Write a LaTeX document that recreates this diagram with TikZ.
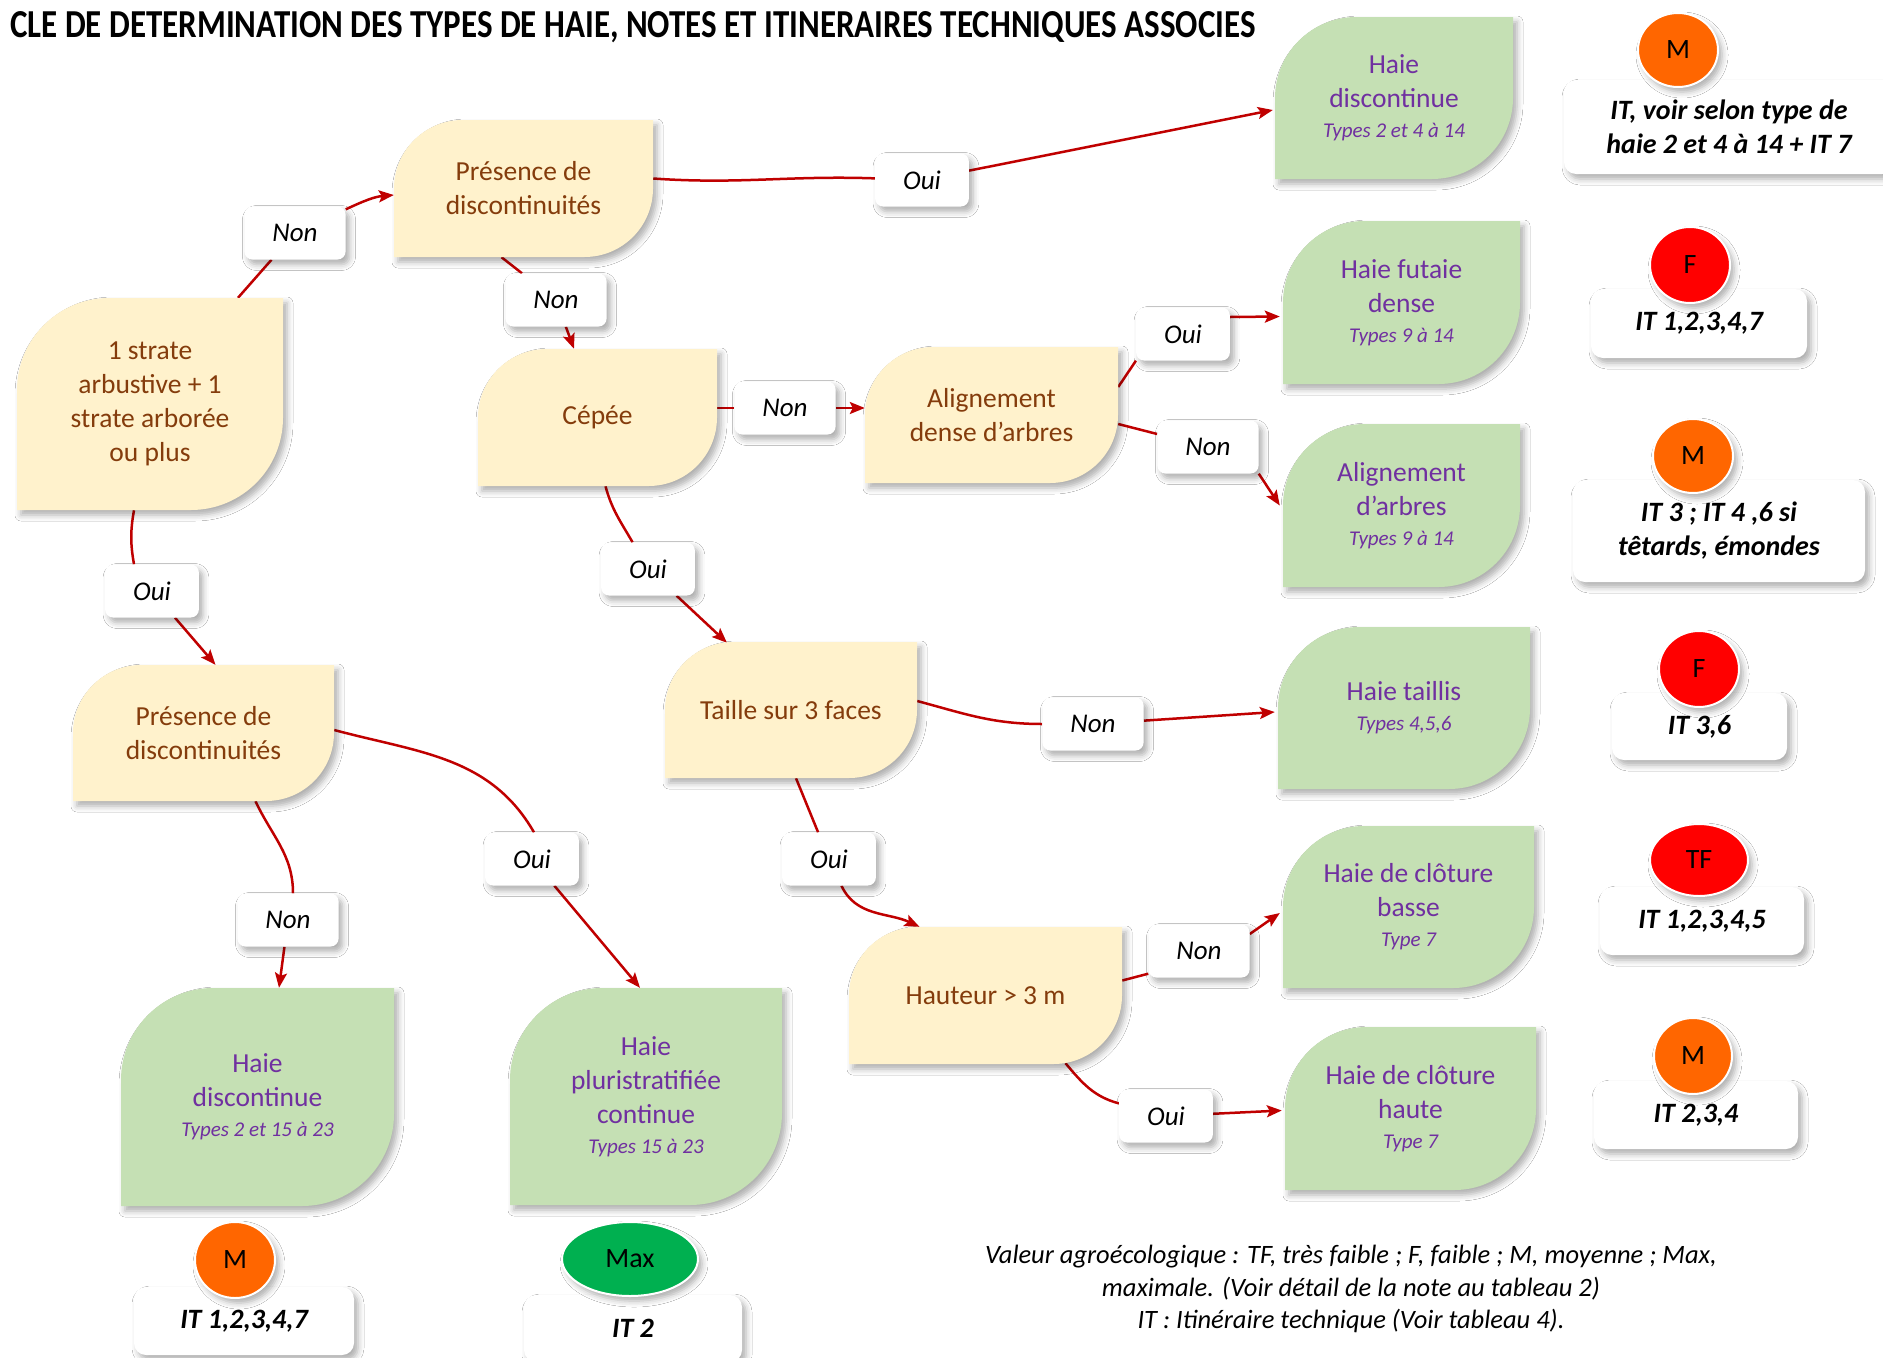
\documentclass[tikz,border=0pt]{standalone}
\usepackage{fontspec}
\setmainfont{Carlito}
\usepackage{graphicx}
\usetikzlibrary{calc,arrows.meta,shadows.blur,backgrounds,shapes.geometric}

\definecolor{yfill}{RGB}{255,242,204}
\definecolor{ytext}{RGB}{132,60,12}
\definecolor{gfill}{RGB}{197,224,180}
\definecolor{gtext}{RGB}{112,48,160}
\definecolor{lred}{RGB}{192,0,0}
\definecolor{corange}{RGB}{255,102,0}
\definecolor{cred}{RGB}{255,0,0}
\definecolor{cgreen}{RGB}{0,176,80}

\newcommand\subt[1]{{\fontsize{21}{26}\selectfont\itshape #1}}

% name, x1, y1, x2, y2, fill, text style, text
\newcommand\leafbox[8]{%
  \pgfmathsetmacro\lr{min(92,0.5*min(#4-#2,#5-#3))}%
  \pgfmathsetmacro\lk{0.4477*\lr}%
  \fill[#6, sh] ({#2},{#5}) -- ({#2},{#3+\lr}) .. controls ({#2},{#3+\lk}) and ({#2+\lk},{#3}) .. ({#2+\lr},{#3}) -- ({#4},{#3}) -- ({#4},{#5-\lr}) .. controls ({#4},{#5-\lk}) and ({#4-\lk},{#5}) .. ({#4-\lr},{#5}) -- cycle;
  \node[#7, minimum width={#4-#2}, minimum height={#5-#3}, inner sep=0pt] (#1) at ({(#2+#4)/2},{(#3+#5)/2}) {#8};
}

\begin{document}
\begin{tikzpicture}[x=1pt,y=-1pt,
  sh/.style={blur shadow={shadow xshift=4pt,shadow yshift=-5pt,shadow blur radius=6pt,shadow opacity=32}},
  ytxt/.style={text=ytext,font=\fontsize{27.5}{34}\selectfont,align=center},
  gtxt/.style={text=gtext,font=\fontsize{27.5}{34}\selectfont,align=center},
  lbl/.style={fill=white,rounded corners=8pt,sh,font=\fontsize{27}{34}\selectfont\itshape,inner xsep=28pt,inner ysep=0pt,minimum height=53pt},
  itbox/.style={fill=white,rounded corners=12pt,sh,font=\fontsize{28}{34}\selectfont\bfseries\itshape,align=center,inner sep=0pt},
  note/.style={ellipse,draw=white,line width=2pt,sh,font=\fontsize{28}{34}\selectfont,inner sep=0pt},
  lnk/.style={draw=lred,line width=2.5pt},
  arr/.style={lnk,-{Stealth[length=15pt,width=12pt,inset=3pt]}},
]
\useasboundingbox (0,0) rectangle (1883,1358);

% title
\node[anchor=base west,inner sep=0pt] (TT) at (10,37) {\resizebox{1245pt}{26pt}{\bfseries CLE DE DETERMINATION DES TYPES DE HAIE, NOTES ET ITINERAIRES TECHNIQUES ASSOCIES}};

% decision nodes
\leafbox{P1}{394}{120}{653}{257}{yfill}{ytxt}{Présence de\\discontinuités}
\leafbox{S}{17}{298}{283}{510}{yfill}{ytxt}{1 strate\\arbustive + 1\\strate arborée\\ou plus}
\leafbox{C}{478}{349}{717}{486}{yfill}{ytxt}{Cépée}
\leafbox{AD}{865}{347}{1118}{483}{yfill}{ytxt}{Alignement\\dense d’arbres}
\leafbox{T}{665}{642}{917}{778}{yfill}{ytxt}{Taille sur 3 faces}
\leafbox{H}{849}{927}{1122}{1064}{yfill}{ytxt}{Hauteur > 3 m}
\leafbox{P2}{73}{665}{334}{801}{yfill}{ytxt}{Présence de\\discontinuités}

% result nodes
\leafbox{G1}{1275}{17}{1513}{179}{gfill}{gtxt}{Haie\\discontinue\\[-4pt]\subt{Types 2 et 4 à 14}}
\leafbox{G2}{1283}{221}{1520}{384}{gfill}{gtxt}{Haie futaie\\dense\\[-4pt]\subt{Types 9 à 14}}
\leafbox{G3}{1283}{424}{1520}{587}{gfill}{gtxt}{Alignement\\d’arbres\\[-4pt]\subt{Types 9 à 14}}
\leafbox{G4}{1278}{627}{1530}{789}{gfill}{gtxt}{Haie taillis\\[-4pt]\subt{Types 4,5,6}}
\leafbox{G5}{1283}{826}{1534}{988}{gfill}{gtxt}{Haie de clôture\\basse\\[-4pt]\subt{Type 7}}
\leafbox{G6}{1285}{1027}{1536}{1190}{gfill}{gtxt}{Haie de clôture\\haute\\[-4pt]\subt{Type 7}}
\leafbox{G7}{121}{988}{394}{1206}{gfill}{gtxt}{Haie\\discontinue\\[-4pt]\subt{Types 2 et 15 à 23}}
\leafbox{G8}{510}{988}{782}{1205}{gfill}{gtxt}{Haie\\pluristratifiée\\continue\\[-4pt]\subt{Types 15 à 23}}

% labels
\node[lbl] (L1) at (295,233) {Non};
\node[lbl] (L2) at (922,180) {Oui};
\node[lbl] (L3) at (556,300) {Non};
\node[lbl] (L4) at (785,408) {Non};
\node[lbl] (L5) at (1183,334) {Oui};
\node[lbl] (L6) at (1208,447) {Non};
\node[lbl] (L7) at (152,591) {Oui};
\node[lbl] (L8) at (648,569) {Oui};
\node[lbl] (L9) at (1093,724) {Non};
\node[lbl] (L10) at (829,859) {Oui};
\node[lbl] (L11) at (288,920) {Non};
\node[lbl] (L12) at (532,859) {Oui};
\node[lbl] (L13) at (1199,951) {Non};
\node[lbl] (L14) at (1166,1116) {Oui};

% IT boxes
\node[itbox,minimum width=330pt,minimum height=94pt] (I1) at (1729,127) {IT, voir selon type de\\haie 2 et 4 à 14 + IT 7};
\node[itbox,minimum width=216pt,minimum height=69pt] (I2) at (1699,323.5) {IT 1,2,3,4,7};
\node[itbox,minimum width=292pt,minimum height=102pt] (I3) at (1719,531) {IT 3 ; IT 4 ,6 si\\têtards, émondes};
\node[itbox,minimum width=175pt,minimum height=67pt] (I4) at (1699.5,726.5) {IT 3,6};
\node[itbox,minimum width=204pt,minimum height=68pt] (I5) at (1702,921) {IT 1,2,3,4,5};
\node[itbox,minimum width=204pt,minimum height=68pt] (I6) at (1696,1115) {IT 2,3,4};
\node[itbox,minimum width=220pt,minimum height=68pt] (I7) at (244,1321) {IT 1,2,3,4,7};
\node[itbox,minimum width=218pt,minimum height=67pt] (I8) at (633,1328.5) {IT 2};

% value circles
\node[note,fill=corange,minimum width=80pt,minimum height=74pt] (V1) at (1678,50) {M};
\node[note,fill=cred,minimum width=80pt,minimum height=76pt] (V2) at (1690,265) {F};
\node[note,fill=corange,minimum width=80pt,minimum height=74pt] (V3) at (1693,456) {M};
\node[note,fill=cred,minimum width=80pt,minimum height=76pt] (V4) at (1699,669) {F};
\node[note,fill=cred,minimum width=98pt,minimum height=72pt] (V5) at (1699,860) {TF};
\node[note,fill=corange,minimum width=78pt,minimum height=76pt] (V6) at (1693,1056) {M};
\node[note,fill=corange,minimum width=80pt,minimum height=76pt] (V7) at (235,1260) {M};
\node[note,fill=cgreen,minimum width=136pt,minimum height=74pt] (V8) at (630,1259) {Max};

% footnote
\node[font=\fontsize{26.5}{32.5}\selectfont\itshape,align=center] (NB) at (1351,1289) {Valeur agroécologique : TF, très faible ; F, faible ; M, moyenne ; Max,\\maximale. (Voir détail de la note au tableau 2)\\IT : Itinéraire technique (Voir tableau 4).};

\begin{pgfonlayer}{background}
\fill[white] (0,0) rectangle (1883,1358);
\draw[lnk] ($(S.north)+(88,0)$) -- (L1);
\draw[arr] (L1) to[out=25,in=185] ($(P1.west)+(0,6.5)$);
\draw[lnk] ($(P1.east)+(0,-10)$) to[out=-4,in=178] (L2);
\draw[arr] (L2) -- ($(G1.west)+(-2,12)$);
\draw[lnk] ($(P1.south)+(-22,0)$) -- (L3);
\draw[arr] (L3) -- ($(C.north)+(-23.5,0)$);
\draw[lnk] ($(C.east)+(0,-9.5)$) -- (L4);
\draw[arr] (L4) -- ($(AD.west)+(0,-7)$);
\draw[lnk] ($(AD.east)+(0,-28)$) -- (L5.south west);
\draw[arr] ($(L5.east)+(0,-17)$) -- ($(G2.west)+(-3,14)$);
\draw[lnk] ($(AD.east)+(0,9)$) -- (L6);
\draw[arr] (L6.south east) -- ($(G3.west)+(-3,0)$);
\draw[lnk] ($(C.south)+(8,0)$) to[out=-75,in=120] (L8);
\draw[arr] (L8) -- ($(T.north)+(-64,1)$);
\draw[lnk] ($(T.east)+(0,-9)$) to[out=-15,in=180] (L9);
\draw[arr] (L9) -- ($(G4.west)+(-3,4)$);
\draw[lnk] ($(T.south)+(5,0)$) -- (L10);
\draw[arr] (L10) to[out=-65,in=155] ($(H.north)+(-66,0)$);
\draw[lnk] ($(H.east)+(0,-15)$) -- ($(L13.south west)+(0,-4)$);
\draw[arr] ($(L13.east)+(0,-17)$) -- ($(G5.west)+(-3,6)$);
\draw[lnk] ($(H.south)+(80,-1)$) to[out=-50,in=165] (L14);
\draw[arr] (L14) -- ($(G6.west)+(-3,2)$);
\draw[lnk] ($(S.south)+(-16,0)$) to[out=-100,in=100] ($(L7.north)+(-18,0)$);
\draw[arr] (L7) -- ($(P2.north)+(12,0)$);
\draw[lnk] ($(P2.south)+(52,0)$) to[out=-65,in=90] ($(L11.north)+(5,0)$);
\draw[arr] (L11) -- ($(G7.north)+(21.5,0)$);
\draw[lnk] ($(P2.east)+(0,-3)$) to[out=-15,in=120] ($(L12.north)+(2,0)$);
\draw[arr] (L12) -- ($(G8.north)+(-6,0)$);
\end{pgfonlayer}
\end{tikzpicture}
\end{document}
